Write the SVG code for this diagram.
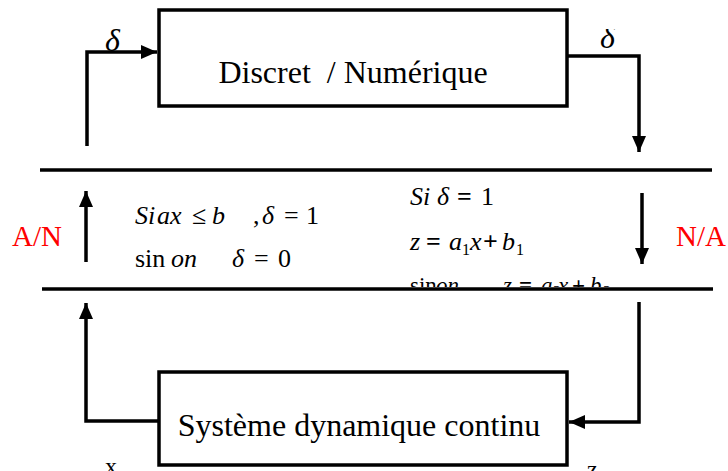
<svg xmlns="http://www.w3.org/2000/svg" width="728" height="471" viewBox="0 0 728 471">
<style>
.box{fill:none;stroke:#000;stroke-width:3.5}
.ln{fill:none;stroke:#000;stroke-width:3.5}
.t{font-family:"Liberation Serif","Times New Roman",serif;fill:#000}
.lbl{font-size:32px}
.red{fill:#ff0000;font-size:29px}
.eq{font-size:26px}
.eq3{font-size:23px}
.sub{font-size:16px}
.it{font-style:italic}
</style>
<defs>
<marker id="ah" markerUnits="userSpaceOnUse" markerWidth="16" markerHeight="14" refX="16" refY="7" orient="auto">
<path d="M0,0 L16,7 L0,14 z" fill="#000"/>
</marker>
<clipPath id="clipBottom"><rect x="0" y="0" width="728" height="287"/></clipPath>
<clipPath id="clipTop"><rect x="0" y="29" width="728" height="100"/></clipPath>
</defs>
<g id="connectors">
<polyline class="ln" points="87,146 87,52 157,52" marker-end="url(#ah)"/>
<polyline class="ln" points="567,56 639,56 639,152" marker-end="url(#ah)"/>
<line class="ln" x1="86" y1="262" x2="86" y2="191" marker-end="url(#ah)"/>
<line class="ln" x1="642" y1="193" x2="642" y2="264" marker-end="url(#ah)"/>
<polyline class="ln" points="159,421 86,421 86,303" marker-end="url(#ah)"/>
<polyline class="ln" points="639,302 639,422 569,422" marker-end="url(#ah)"/>
<text class="t it" x="105" y="51" font-size="32">δ</text>
<text class="t it" x="600" y="48" font-size="32" clip-path="url(#clipTop)">δ</text>
<text class="t" x="105" y="474" font-size="24">x</text>
<text class="t" x="587" y="477" font-size="24">z</text>
</g>
<g id="discret">
<rect class="box" x="159" y="10" width="408" height="96"/>
<text class="t lbl" x="353" y="83" text-anchor="middle" xml:space="preserve">Discret  / Numérique</text>
</g>
<g id="systeme">
<rect class="box" x="159" y="372" width="408" height="93"/>
<text class="t lbl" x="359" y="436" text-anchor="middle">Système dynamique continu</text>
</g>
<g id="interface">
<line class="ln" x1="40" y1="170" x2="712" y2="170"/>
<text class="t red" x="12" y="246">A/N</text>
<text class="t red" x="676" y="246">N/A</text>
<text class="t eq"><tspan class="it" x="135" y="224">Si</tspan><tspan class="it" x="157">ax</tspan><tspan x="192">≤</tspan><tspan class="it" x="212">b</tspan><tspan x="253">,</tspan><tspan class="it" x="262">δ</tspan><tspan x="284">=</tspan><tspan x="306">1</tspan></text>
<text class="t eq"><tspan x="135" y="267">sin</tspan><tspan class="it" x="171">on</tspan><tspan class="it" x="232">δ</tspan><tspan x="254">=</tspan><tspan x="278">0</tspan></text>
<text class="t eq"><tspan class="it" x="410" y="205">Si</tspan><tspan class="it" x="437">δ</tspan><tspan x="457" font-weight="bold">=</tspan><tspan x="481">1</tspan></text>
<text class="t eq"><tspan class="it" x="410" y="250">z</tspan><tspan x="426" font-weight="bold">=</tspan><tspan class="it" x="449">a</tspan><tspan class="sub" x="462" y="255">1</tspan><tspan class="it" x="470" y="250">x</tspan><tspan x="483" font-weight="bold">+</tspan><tspan class="it" x="502">b</tspan><tspan class="sub" x="516" y="255">1</tspan></text>
<g clip-path="url(#clipBottom)">
<text class="t eq3"><tspan x="410" y="293">sin</tspan><tspan class="it" x="436">on</tspan><tspan class="it" x="503">z</tspan><tspan x="519" font-weight="bold">=</tspan><tspan class="it" x="541">a</tspan><tspan class="sub" x="553" y="297">2</tspan><tspan class="it" x="558" y="293">x</tspan><tspan x="572" font-weight="bold">+</tspan><tspan class="it" x="590">b</tspan><tspan class="sub" x="603" y="297">2</tspan></text>
</g>
<line class="ln" x1="42" y1="289" x2="713" y2="289"/>
</g>
</svg>
